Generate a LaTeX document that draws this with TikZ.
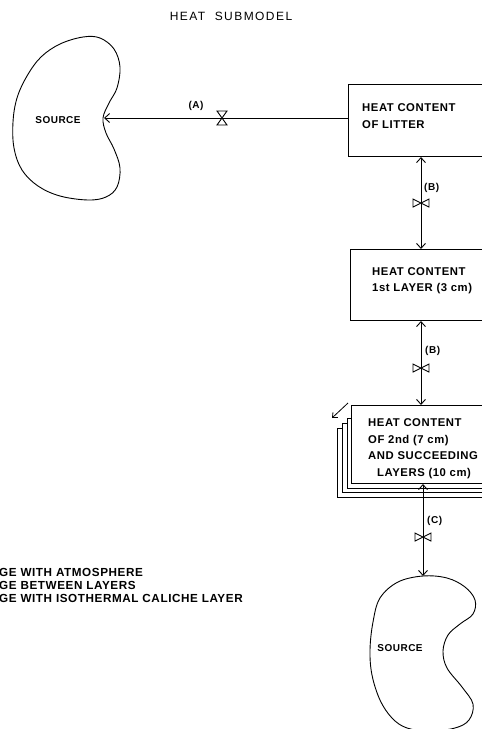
\documentclass[tikz,border=0pt]{standalone}
\usepackage{fontspec}
\setmainfont{Liberation Sans}
\newfontfamily\lsfont[LetterSpace=5]{Liberation Sans}
\newfontfamily\ttlfont[LetterSpace=12]{Liberation Sans}
\usetikzlibrary{arrows.meta}
\tikzset{
  bx/.style={draw, fill=white, line width=1pt, inner sep=0pt, anchor=north west},
  tx/.style={anchor=west, align=left, inner sep=0pt, font=\lsfont\bfseries\fontsize{11.3}{16.5}\selectfont},
  lab/.style={inner sep=0pt, font=\lsfont\bfseries\fontsize{10}{12}\selectfont},
  srct/.style={inner sep=0pt, font=\lsfont\bfseries\fontsize{10}{12}\selectfont},
  leg/.style={anchor=west, inner sep=0pt, font=\lsfont\bfseries\fontsize{11.7}{13}\selectfont},
  flow/.style={line width=0.9pt},
  onetip/.style={-{Straight Barb[length=5pt,width=9pt]}},
  twotip/.style={{Straight Barb[length=5pt,width=9pt]}-{Straight Barb[length=5pt,width=9pt]}},
  valveH/.pic={\draw[line width=0.9pt] (-5,-7) -- (5,-7) -- (-5,7) -- (5,7) -- cycle;},
  valveV/.pic={\draw[line width=0.9pt] (-8,-4) -- (-8,4) -- (8,-4) -- (8,4) -- cycle;}
}
\begin{document}
\begin{tikzpicture}[x=1pt,y=-1pt]
\useasboundingbox (0,0) rectangle (482,729);
\clip (0,0) rectangle (482,729);

% title
\node[inner sep=0pt, font=\ttlfont\fontsize{12}{14}\selectfont] (title) at (231,16) {HEAT\ \ SUBMODEL};

% source 1
\draw[line width=0.9pt] plot[smooth cycle, tension=0.6] coordinates {
 (83,37) (100,38) (114,49) (120,67) (117,88) (109,103) (103,118) (106,133) (114,149)
 (120,168) (117,187) (106,197) (88,200) (60,196) (38,186) (22,170) (14,148) (13,122)
 (17,98) (27,76) (41,57) (60,44)};
\node[srct] (src1) at (58,120) {SOURCE};
\coordinate (s1in) at (104,118);

% boxes
\node[bx, minimum width=150pt, minimum height=72pt] (b1) at (348,84) {};
\node[tx] (t1) at (362,116) {HEAT CONTENT\\OF LITTER};

\node[bx, minimum width=150pt, minimum height=71pt] (b2) at (350,249) {};
\node[tx] (t2) at (372,280.5) {HEAT CONTENT\\1st LAYER (3 cm)};

\node[bx, minimum width=160pt, minimum height=68.5pt] (b3c) at (337,428) {};
\node[bx, minimum width=155pt, minimum height=69pt] (b3b) at (342,423) {};
\node[bx, minimum width=150pt, minimum height=69.5pt] (b3a) at (347,418) {};
\node[bx, minimum width=150pt, minimum height=78pt] (b3) at (351,405) {};
\node[tx] (t3) at (368,448.5) {HEAT CONTENT\\OF 2nd (7 cm)\\AND SUCCEEDING\\\hspace*{9pt}LAYERS (10 cm)};

\coordinate (sa1) at (348,403);
\coordinate (sa2) at (332,418);
\draw[line width=0.8pt, -{Straight Barb[length=4pt,width=7pt]}] (sa1) -- (sa2);

% source 2
\draw[line width=0.9pt] plot[smooth cycle, tension=0.6] coordinates {
 (423,576) (447,578) (465,587) (475,600) (473,614) (460,624) (448,635) (443,651)
 (447,668) (462,687) (473,704) (469,720) (455,728) (430,731) (407,728) (392,718)
 (380,700) (372,675) (370,650) (373,622) (380,598) (398,582)};
\node[srct] (src2) at (400,648) {SOURCE};
\coordinate (s2in) at (423,576);

% flow A
\draw[flow, onetip] (b1.west |- s1in) -- (s1in);
\pic at (222,118) {valveH};
\node[lab] (la) at (196,106) {(A)};

% flows B
\coordinate (vx) at (421,0);
\draw[flow, twotip] (b1.south -| vx) -- (b2.north -| vx);
\pic at (421,203) {valveV};
\node[lab, anchor=west] (lb1) at (424,188) {(B)};

\draw[flow, twotip] (b2.south -| vx) -- (b3.north -| vx);
\pic at (421,368) {valveV};
\node[lab, anchor=west] (lb2) at (425,351) {(B)};

% flow C
\draw[flow, twotip] (b3.south -| s2in) -- (s2in);
\pic at (423,537) {valveV};
\node[lab, anchor=west] (lc) at (427,521) {(C)};

% legend (cut at left edge)
\node[leg] (l1) at (-1,572) {GE WITH ATMOSPHERE};
\node[leg] (l2) at (-1,585) {GE BETWEEN LAYERS};
\node[leg] (l3) at (-1,598) {GE WITH ISOTHERMAL CALICHE LAYER};
\end{tikzpicture}
\end{document}
